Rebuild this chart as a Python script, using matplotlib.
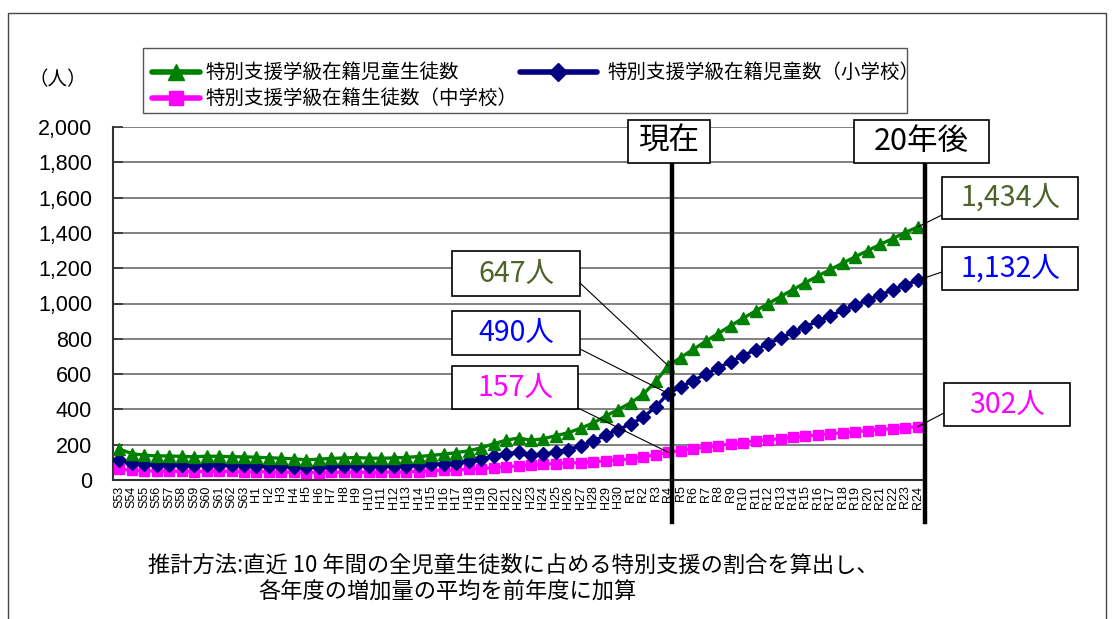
import matplotlib
matplotlib.use('Agg')
import matplotlib.pyplot as plt
from matplotlib.patches import Rectangle
from matplotlib.lines import Line2D
from matplotlib.transforms import blended_transform_factory

# ---------------- data ----------------
years = ["S53", "S54", "S55", "S56", "S57", "S58", "S59", "S60", "S61", "S62", "S63",
         "H1", "H2", "H3", "H4", "H5", "H6", "H7", "H8", "H9", "H10",
         "H11", "H12", "H13", "H14", "H15", "H16", "H17", "H18", "H19", "H20",
         "H21", "H22", "H23", "H24", "H25", "H26", "H27", "H28", "H29", "H30",
         "R1", "R2", "R3", "R4", "R5", "R6", "R7", "R8", "R9", "R10",
         "R11", "R12", "R13", "R14", "R15", "R16", "R17", "R18", "R19", "R20",
         "R21", "R22", "R23", "R24"]

total = [175, 150, 140, 137, 136, 134, 131, 135, 134, 132, 131,
         129, 126, 123, 120, 114, 118, 122, 125, 127, 124,
         123, 125, 128, 133, 139, 146, 155, 165, 182, 205,
         225, 238, 225, 234, 251, 268, 294, 323, 363, 399,
         438, 486, 559, 647, 694, 740, 785, 830, 874, 916,
         958, 999, 1039, 1079, 1118, 1156, 1193, 1229, 1265, 1300,
         1335, 1368, 1402, 1434]

elementary = [113, 95, 88, 87, 86, 85, 83, 85, 84, 83, 83,
              82, 80, 78, 76, 72, 76, 79, 81, 83, 80,
              78, 80, 82, 85, 88, 92, 98, 105, 118, 135,
              150, 158, 140, 145, 158, 172, 195, 220, 255, 285,
              318, 355, 415, 490, 527, 563, 599, 635, 670, 704,
              738, 771, 804, 837, 869, 900, 931, 961, 991, 1020,
              1049, 1077, 1105, 1132]

junior = [62, 55, 52, 50, 50, 49, 48, 50, 50, 49, 48,
          47, 46, 45, 44, 42, 42, 43, 44, 44, 44,
          45, 45, 46, 48, 51, 54, 57, 60, 64, 70,
          75, 80, 85, 89, 93, 96, 99, 103, 108, 114,
          120, 131, 144, 157, 167, 177, 186, 195, 204, 212,
          220, 228, 235, 242, 249, 256, 262, 268, 274, 280,
          286, 291, 297, 302]

series_names = ["特別支援学級在籍児童生徒数", "特別支援学級在籍児童数（小学校）", "特別支援学級在籍生徒数（中学校）"]
yticks = [0, 200, 400, 600, 800, 1000, 1200, 1400, 1600, 1800, 2000]
ytick_labels = ["0", "200", "400", "600", "800", "1,000", "1,200", "1,400", "1,600", "1,800", "2,000"]

now_idx = years.index("R4")
end_idx = years.index("R24")

# ---------------- style ----------------
JP = ['Noto Sans CJK JP', 'DejaVu Sans']
NUM = ['Liberation Sans', 'DejaVu Sans']
GREEN = '#008000'
NAVY = '#000080'
PINK = '#FF00FF'
OLIVE = '#4F6228'
BLUE_TXT = '#0000FF'

W, H = 1113, 619
fig = plt.figure(figsize=(W / 100, H / 100), dpi=100)
fig.patch.set_facecolor('white')


def fx(px):
    return px / W


def fy(py):
    return 1 - py / H


# outer frame
fig.add_artist(Rectangle((fx(7.5), fy(640)), fx(1106) - fx(7.5), fy(13) - fy(640),
                         transform=fig.transFigure, facecolor='none', edgecolor='#444444',
                         lw=1.0, zorder=0))

ax = fig.add_axes([fx(113), fy(480), fx(924) - fx(113), (480 - 127) / H])
x = list(range(len(years)))

ax.plot(x, junior, color=PINK, lw=2.4, marker='s', ms=7.5, mec=PINK, mfc=PINK, zorder=3)
ax.plot(x, elementary, color=NAVY, lw=2.4, marker='D', ms=7, mec=NAVY, mfc=NAVY, zorder=4)
ax.plot(x, total, color=GREEN, lw=2.4, marker='^', ms=9, mec=GREEN, mfc=GREEN, zorder=5)

ax.set_xlim(-0.5, len(years) - 0.5)
ax.set_ylim(0, 2000)
ax.set_yticks(yticks)
ax.set_yticklabels(ytick_labels, family=NUM, fontsize=15.5)
ax.set_xticks(x)
ax.set_xticklabels(years, rotation=90, family=NUM, fontsize=9, va='top')
ax.tick_params(axis='x', length=0, pad=4)
ax.tick_params(axis='y', direction='in', length=7, width=1.2, pad=15, color='#333333')
ax.yaxis.grid(True, color='#808080', lw=1.4, zorder=1)
ax.set_axisbelow(True)
for s in ['top', 'right']:
    ax.spines[s].set_visible(False)
for s in ['left', 'bottom']:
    ax.spines[s].set_color('#333333')
    ax.spines[s].set_linewidth(1.5)

# vertical marker lines (data x, figure y)
bt = blended_transform_factory(ax.transData, fig.transFigure)
for xi in [now_idx + 0.3, end_idx + 0.55]:
    fig.add_artist(Line2D([xi, xi], [fy(163), fy(522)], transform=bt, color='black', lw=3.2, zorder=6))


def box(x0, y0, x1, y1, lw=1.2):
    fig.add_artist(Rectangle((fx(x0), fy(y1)), fx(x1) - fx(x0), fy(y0) - fy(y1),
                             transform=fig.transFigure, facecolor='white', edgecolor='black',
                             lw=lw, zorder=7))


def boxtext(x0, y0, x1, y1, s, color, size):
    box(x0, y0, x1, y1)
    fig.text(fx((x0 + x1) / 2), fy((y0 + y1) / 2), s, color=color, fontsize=size,
             family=JP, ha='center', va='center', zorder=8)


boxtext(628, 120, 710, 163, "現在", 'black', 22)
boxtext(854, 120, 989, 163, "20年後", 'black', 22)

# value callouts
callouts = [
    (452, 251, 580, 296, "647人", OLIVE, (580, 283), now_idx, total[now_idx]),
    (452, 311, 580, 355, "490人", BLUE_TXT, (580, 349), now_idx, elementary[now_idx]),
    (452, 366, 578, 409, "157人", PINK, (578, 408), now_idx, junior[now_idx]),
    (942, 177, 1078, 219, "1,434人", OLIVE, (942, 215), end_idx, total[end_idx]),
    (942, 247, 1078, 290, "1,132人", BLUE_TXT, (942, 272), end_idx, elementary[end_idx]),
    (944, 383, 1070, 426, "302人", PINK, (944, 413), end_idx, junior[end_idx]),
]
for x0, y0, x1, y1, s, col, (lx, ly), xi, val in callouts:
    ax.annotate('', xy=(xi, val), xycoords='data', xytext=(fx(lx), fy(ly)),
                textcoords='figure fraction',
                arrowprops=dict(arrowstyle='-', lw=0.8, color='black', shrinkA=0, shrinkB=0),
                annotation_clip=False, zorder=6)
    boxtext(x0, y0, x1, y1, s, col, 20.5)

# legend (manual)
fig.add_artist(Rectangle((fx(143), fy(113)), fx(907) - fx(143), fy(48) - fy(113),
                         transform=fig.transFigure, facecolor='white', edgecolor='#555555',
                         lw=1.0, zorder=7))
leg = [
    (152, 200, 176, 72, GREEN, '^', 11, series_names[0], 205),
    (520, 597, 558, 72, NAVY, 'D', 9, series_names[1], 607),
    (152, 200, 176, 98, PINK, 's', 10, series_names[2], 205),
]
for lx0, lx1, mx, ly, col, mk, ms, name, tx in leg:
    fig.add_artist(Line2D([fx(lx0), fx(lx1)], [fy(ly), fy(ly)], transform=fig.transFigure,
                          color=col, lw=4, solid_capstyle='round', zorder=8))
    fig.add_artist(Line2D([fx(mx)], [fy(ly)], transform=fig.transFigure, color=col,
                          marker=mk, ms=ms, zorder=9))
    fig.text(fx(tx), fy(ly), name, family=JP, fontsize=14, ha='left', va='center', zorder=9)

# unit label
fig.text(fx(58), fy(80), "（人）", family=JP, fontsize=14, ha='center', va='center')

# note
fig.text(fx(148), fy(565), "推計方法:直近 10 年間の全児童生徒数に占める特別支援の割合を算出し、",
         family=JP, fontsize=16, ha='left', va='center')
fig.text(fx(258), fy(592), "各年度の増加量の平均を前年度に加算",
         family=JP, fontsize=16, ha='left', va='center')

fig.savefig('out.png', dpi=100, facecolor='white')
